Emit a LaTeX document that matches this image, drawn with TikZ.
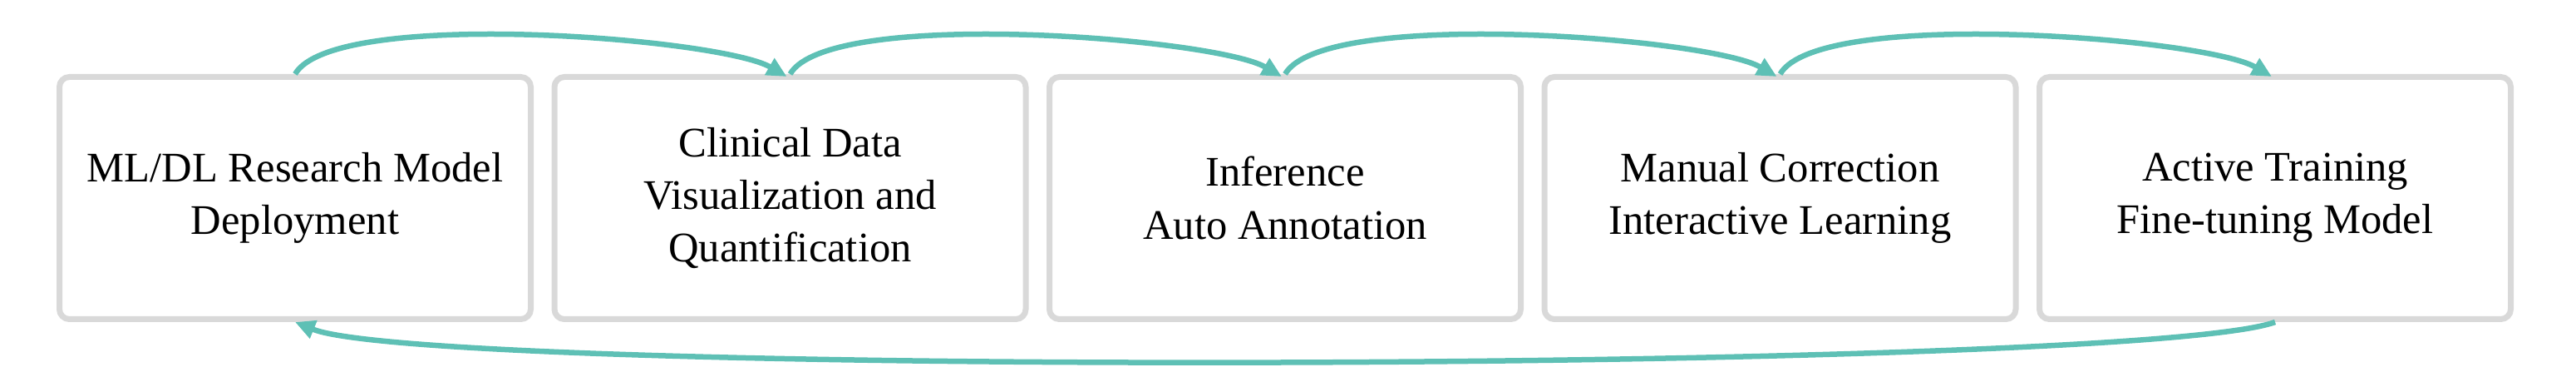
\documentclass[tikz,border=0pt]{standalone}
\usepackage{fontspec}
\setmainfont{Liberation Serif}
\usetikzlibrary{arrows.meta,positioning}
\definecolor{FlowTeal}{RGB}{94,192,181}
\definecolor{BoxGray}{RGB}{217,217,217}

\begin{document}
\begin{tikzpicture}[>={Triangle[length=0.24cm,width=0.22cm]},node distance=5.955cm,
	Flow/.style={->,FlowTeal,line width=0.065cm},
	Step/.style={rectangle,rounded corners=0.12cm,draw=BoxGray,line width=0.07cm,fill=white,
		minimum width=5.67cm,minimum height=2.91cm,align=center,
		font=\fontsize{14.4}{18}\selectfont},
]
	\useasboundingbox (0,0) rectangle (30.99,4.65);
	\node[Step] (Deploy) at (3.55,2.27){ML/DL Research Model\\Deployment};
	\node[Step] (Visual)[right of= Deploy]{Clinical Data\\Visualization and\\Quantification};
	\node[Step] (Infer)[right of= Visual]{Inference\\Auto Annotation};
	\node[Step] (Correct)[right of= Infer]{Manual Correction\\Interactive Learning};
	\node[Step] (Train)[right of= Correct]{Active Training\\Fine-tuning Model};
	
	\path[Flow]
	(Deploy.north) edge[out=60,in=150,looseness=0.4] ([xshift=-0.04cm,yshift=-0.03cm]Visual.north)
	(Visual.north) edge[out=60,in=150,looseness=0.4] ([xshift=-0.04cm,yshift=-0.03cm]Infer.north)
	(Infer.north) edge[out=60,in=150,looseness=0.4] ([xshift=-0.04cm,yshift=-0.03cm]Correct.north)
	(Correct.north) edge[out=60,in=150,looseness=0.4] ([xshift=-0.04cm,yshift=-0.03cm]Train.north)
	(Train.south) edge[out=200,in=-22,looseness=0.19] (Deploy.south)
	;
\end{tikzpicture}
\end{document}
